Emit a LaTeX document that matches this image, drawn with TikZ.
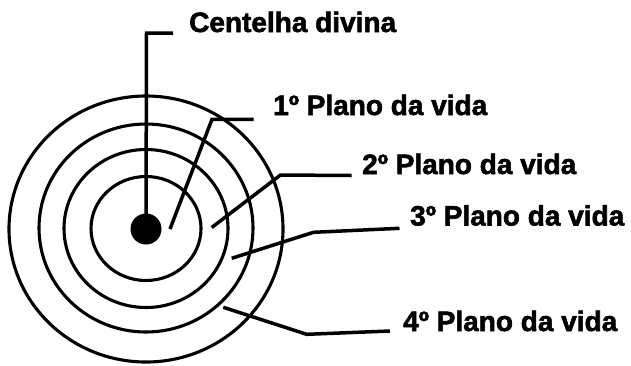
\documentclass[tikz,border=0pt]{standalone}
\usepackage{fontspec}
\setmainfont{Liberation Sans}[BoldFeatures={FakeBold=2}]
\begin{document}
\begin{tikzpicture}[x=1pt,y=-1pt,
  ring/.style={line width=3.1pt},
  lead/.style={line width=3.5pt, line join=miter},
  lbl/.style={anchor=base west, inner sep=0pt, font=\fontsize{28}{32}\selectfont\bfseries}]
\useasboundingbox (0,0) rectangle (631,365);
% rings
\draw[ring] (146,228.5) ellipse [x radius=55, y radius=52];
\draw[ring] (146,228.5) ellipse [x radius=82, y radius=79];
\draw[ring] (146,228) ellipse [x radius=107, y radius=104];
\draw[ring] (146,229) ellipse [x radius=137, y radius=133];
% centre spark
\node[circle, fill=black, minimum size=31pt, inner sep=0pt] (spark) at (146,229) {};
% labels
\node[lbl] (l0) at (189,32) {Centelha divina};
\node[lbl] (l1) at (273,115) {1º Plano da vida};
\node[lbl] (l2) at (362,174) {2º Plano da vida};
\node[lbl] (l3) at (410,225.5) {3º Plano da vida};
\node[lbl] (l4) at (403,331) {4º Plano da vida};
% leader coordinates
\coordinate (e0) at (173,33);
\coordinate (k0) at (146.5,33);
\coordinate (e1) at (253.5,119.3);
\coordinate (k1) at (212,119.3);
\coordinate (p1) at (170,229);
\coordinate (e2) at (351.7,175.5);
\coordinate (k2) at (280.5,175);
\coordinate (p2) at (211.7,227.5);
\coordinate (e3) at (399.5,228.3);
\coordinate (k3) at (313.5,232.3);
\coordinate (p3) at (231.7,258.3);
\coordinate (e4) at (390,331);
\coordinate (k4) at (306.7,334.3);
\coordinate (p4) at (223.3,307.3);
% leaders
\draw[lead] (e0) -- (k0) -- (spark.center);
\draw[lead] (e1) -- (k1) -- (p1);
\draw[lead] (e2) -- (k2) -- (p2);
\draw[lead] (e3) -- (k3) -- (p3);
\draw[lead] (e4) -- (k4) -- (p4);
\end{tikzpicture}
\end{document}
